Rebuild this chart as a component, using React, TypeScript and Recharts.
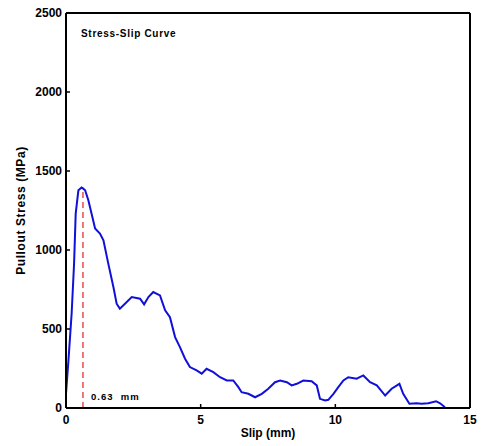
import React from 'react';
import {
  LineChart,
  Line,
  XAxis,
  YAxis,
  ReferenceLine,
  ReferenceDot,
  Label,
} from 'recharts';

// Measured pull-out response: slip (mm) vs. pull-out stress (MPa)
const slipMm = [
  0, 0.09, 0.21, 0.3, 0.36, 0.46, 0.58, 0.63, 0.71, 0.83, 0.95, 1.08, 1.26, 1.39,
  1.57, 1.76, 1.88, 2.0, 2.19, 2.44, 2.75, 2.9, 3.06, 3.24, 3.49, 3.68, 3.86, 4.05,
  4.23, 4.42, 4.6, 4.85, 5.04, 5.22, 5.47, 5.72, 5.97, 6.21, 6.4, 6.52, 6.77, 7.02,
  7.27, 7.51, 7.76, 7.95, 8.2, 8.38, 8.57, 8.81, 9.12, 9.31, 9.43, 9.62, 9.74, 9.93,
  10.11, 10.3, 10.48, 10.79, 11.04, 11.29, 11.54, 11.85, 12.09, 12.38, 12.52, 12.75,
  13.02, 13.2, 13.45, 13.74, 13.89, 14.07,
];
const stressMPa = [
  90, 300, 600, 915, 1230, 1378, 1395, 1390, 1378, 1315, 1230, 1136, 1104, 1061,
  914, 766, 660, 629, 660, 702, 692, 656, 702, 734, 713, 618, 575, 449,
  385, 312, 259, 238, 217, 248, 227, 195, 174, 174, 132, 100, 90, 68,
  90, 122, 163, 174, 163, 143, 153, 174, 170, 143, 58, 48, 52, 90,
  132, 174, 195, 185, 206, 163, 143, 79, 122, 153, 90, 27,
  30, 27, 30, 43, 30, 5,
];

const xTicks = [0, 5, 10, 15];
const yTicks = [0, 500, 1000, 1500, 2000, 2500];

const peakSlip = 0.63;
const peakStress = 1390;

const chartTitle = 'Stress-Slip Curve';
const peakLabel = '0.63  mm';
const xTitle = 'Slip (mm)';
const yTitle = 'Pullout Stress (MPa)';

const data = slipMm.map((slip, i) => ({ slip, stress: stressMPa[i] }));

const FONT = '"Liberation Sans", Arial, Helvetica, sans-serif';
const axisLine = { stroke: '#000', strokeWidth: 2 };
const tickLine = { stroke: '#000', strokeWidth: 1.5 };
const tickText = { fill: '#000', fontSize: 12, fontWeight: 'bold', fontFamily: FONT };

const TitleText = (props: any) => {
  const vb = props.viewBox || {};
  return (
    <text
      x={vb.x + 15}
      y={vb.y + 24}
      fontFamily={FONT}
      fontSize={10}
      fontWeight="bold"
      letterSpacing={0.7}
      fill="#000"
    >
      {chartTitle}
    </text>
  );
};

const PeakText = (props: any) => {
  const vb = props.viewBox || {};
  return (
    <text
      x={vb.x + 8}
      y={vb.y - 8}
      fontFamily={FONT}
      fontSize={9.5}
      fontWeight="bold"
      letterSpacing={1}
      fill="#000"
      style={{ whiteSpace: 'pre' }}
    >
      {peakLabel}
    </text>
  );
};

export default function App() {
  return (
    <div style={{ position: 'absolute', left: 0, top: 0, background: '#fff' }}>
      <LineChart
        width={481}
        height={446}
        data={data}
        margin={{ top: 12, right: 10, bottom: 0, left: 0 }}
      >
        <XAxis
          xAxisId="b"
          dataKey="slip"
          type="number"
          domain={[0, 15]}
          ticks={xTicks}
          interval={0}
          height={38}
          tickSize={-4}
          tickMargin={11}
          axisLine={axisLine}
          tickLine={tickLine}
          tick={tickText}
          allowDataOverflow
        >
          <Label
            value={xTitle}
            position="insideBottom"
            offset={9}
            style={{ fill: '#000', fontSize: 12, fontWeight: 'bold', fontFamily: FONT }}
          />
        </XAxis>
        <XAxis
          xAxisId="t"
          orientation="top"
          dataKey="slip"
          type="number"
          domain={[0, 15]}
          ticks={xTicks}
          interval={0}
          height={1}
          tickSize={-4}
          axisLine={axisLine}
          tickLine={tickLine}
          tick={false}
          allowDataOverflow
        />
        <YAxis
          yAxisId="l"
          type="number"
          domain={[0, 2500]}
          ticks={yTicks}
          interval={0}
          width={66}
          tickSize={-4}
          tickMargin={8}
          axisLine={axisLine}
          tickLine={tickLine}
          tick={tickText}
          allowDataOverflow
        >
          <Label
            value={yTitle}
            angle={-90}
            position="insideLeft"
            offset={21}
            style={{
              fill: '#000',
              fontSize: 12,
              fontWeight: 'bold',
              fontFamily: FONT,
              letterSpacing: 0.6,
              textAnchor: 'middle',
            }}
          />
        </YAxis>
        <YAxis
          yAxisId="r"
          orientation="right"
          type="number"
          domain={[0, 2500]}
          ticks={yTicks}
          interval={0}
          width={1}
          tickSize={-4}
          axisLine={axisLine}
          tickLine={tickLine}
          tick={false}
          allowDataOverflow
        />
        <ReferenceLine
          xAxisId="b"
          yAxisId="l"
          segment={[
            { x: peakSlip, y: 0 },
            { x: peakSlip, y: peakStress },
          ]}
          stroke="#e02020"
          strokeWidth={1.2}
          strokeDasharray="6 4"
        />
        <Line
          xAxisId="b"
          yAxisId="l"
          type="linear"
          dataKey="stress"
          stroke="#1010d8"
          strokeWidth={2}
          dot={false}
          isAnimationActive={false}
        />
        <ReferenceDot
          xAxisId="b"
          yAxisId="l"
          x={0}
          y={2500}
          r={0}
          fill="none"
          stroke="none"
          label={{ content: TitleText }}
        />
        <ReferenceDot
          xAxisId="b"
          yAxisId="l"
          x={peakSlip}
          y={0}
          r={0}
          fill="none"
          stroke="none"
          label={{ content: PeakText }}
        />
      </LineChart>
    </div>
  );
}
